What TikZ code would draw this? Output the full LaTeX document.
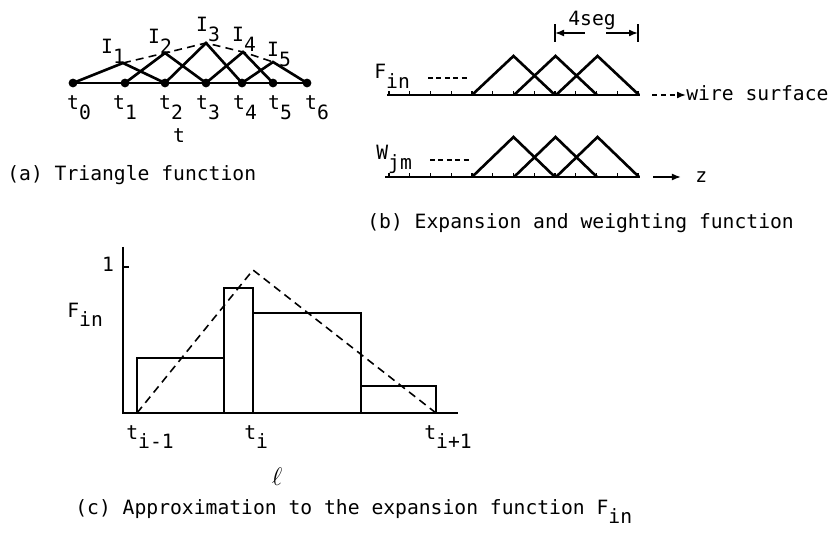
\documentclass[tikz,border=0pt]{standalone}
\usepackage{fontspec}
\setmainfont{DejaVu Sans Mono}
\usetikzlibrary{arrows.meta}
\newcommand{\sbs}[1]{\raisebox{-5.5pt}{#1}}
\tikzset{
  ln/.style  ={line width=1.5pt, line join=miter},
  dsh/.style ={line width=0.9pt, dash pattern=on 4.5pt off 3pt},
  shortdsh/.style={line width=0.9pt, dash pattern=on 2.8pt off 2pt},
  tck/.style ={line width=0.8pt},
  lbl/.style ={inner sep=0pt, anchor=base, font=\fontsize{11.2}{13}\selectfont},
  txt/.style ={inner sep=0pt, anchor=base west, font=\fontsize{11.2}{13}\selectfont},
  dot/.style ={circle, fill=black, inner sep=0pt, minimum size=5pt},
  arr/.style ={-{Latex[length=1.8mm, width=1.4mm]}, line width=0.9pt},
}
\begin{document}
\begin{tikzpicture}[x=0.02cm, y=-0.02cm]
  \useasboundingbox (0,0) rectangle (831,533);

  % (a) triangle function
  \foreach \n/\x in {0/73,1/125,2/165,3/206,4/242,5/273,6/307}
    \coordinate (t\n) at (\x,83);
  \foreach \n/\x/\y in {1/123/63,2/165/53,3/206/43,4/243/52,5/273/62}
    \coordinate (p\n) at (\x,\y);
  \draw[ln] (t0) -- (t6);
  \foreach \n/\a/\b in {1/0/2,2/1/3,3/2/4,4/3/5,5/4/6}
    \draw[ln] (t\a) -- (p\n) -- (t\b);
  \draw[dsh] (p1) -- (p2) -- (p3) -- (p4) -- (p5);
  \foreach \n in {0,...,6}
    \node[dot] (d\n) at (t\n) {};
  \foreach \n/\x/\y in {1/113/54,2/160/44,3/208/32,4/244/42,5/279/57}
    \node[lbl] (i\n) at (\x,\y) {I\sbs{\n}};
  \foreach \n/\x in {0/79,1/125,2/171,3/208,4/245,5/280,6/317}
    \node[lbl] (lt\n) at (\x,110) {t\sbs{\n}};
  \node[lbl] (tax) at (179,143) {t};
  \node[txt] (capa) at (7,181) {(a) Triangle function};

  % (b) expansion and weighting function
  \foreach \y/\h/\s in {95/56/387,177/137/385} {
    \draw[ln] (\s,\y) -- (640,\y);
    \foreach \i in {0,...,12}
      \draw[tck] (389+\i*20.75,\y) -- ++(0,-4);
    \foreach \x in {472,514,556}
      \draw[ln] (\x,\y) -- (\x+41.5,\h) -- (\x+83,\y);
  }
  \node[txt] (fin) at (374,79) {F\sbs{in}};
  \node[txt] (wjm) at (376,160) {W\sbs{jm}};
  \draw[shortdsh] (428,78) -- (470,78);
  \draw[shortdsh] (430,160) -- (470,160);
  \node[txt] (ws) at (686,101) {wire surface};
  \node[txt] (zz) at (695,183) {z};
  \coordinate (wsa) at (652,95);
  \coordinate (zza) at (653,177);
  \draw[arr, dash pattern=on 3pt off 2pt] (wsa) -- (wsa -| ws.west);
  \draw[arr] (zza) -- ([xshift=-8pt]zza -| zz.west);
  \coordinate (sl) at (555,33);
  \coordinate (sr) at (638,33);
  \draw[tck] ([yshift=-5]sl) -- ([yshift=5]sl);
  \draw[tck] ([yshift=-5]sr) -- ([yshift=5]sr);
  \draw[arr] ([xshift=17]sl) -- (sl);
  \draw[arr] ([xshift=-18]sr) -- (sr);
  \node[lbl] (seg) at (592,26) {4seg};
  \node[txt] (capb) at (367,229) {(b) Expansion and weighting function};

  % (c) approximation
  \draw[ln] (123,247) -- (123,413) -- (458,413);
  \draw[tck] (123,267) -- (129,267);
  \draw[ln] (137,413) rectangle (224,358);
  \draw[ln] (224,413) rectangle (253,288);
  \draw[ln] (253,413) rectangle (361,313);
  \draw[ln] (361,413) rectangle (436,386);
  \draw[dsh] (137,413) -- (253,270) -- (436,413);
  \node[lbl] (one) at (108,272) {1};
  \node[txt] (finc) at (67,317) {F\sbs{in}};
  \node[txt] (tim) at (126,439) {t\sbs{i-1}};
  \node[txt] (ti) at (244,439) {t\sbs{i}};
  \node[txt] (tip) at (424,439) {t\sbs{i+1}};
  \node[font=\fontsize{15}{17}\selectfont] (ell) at (277,477) {$\ell$};
  \node[txt] (capc) at (75,514) {(c) Approximation to the expansion function F\sbs{in}};
\end{tikzpicture}
\end{document}
